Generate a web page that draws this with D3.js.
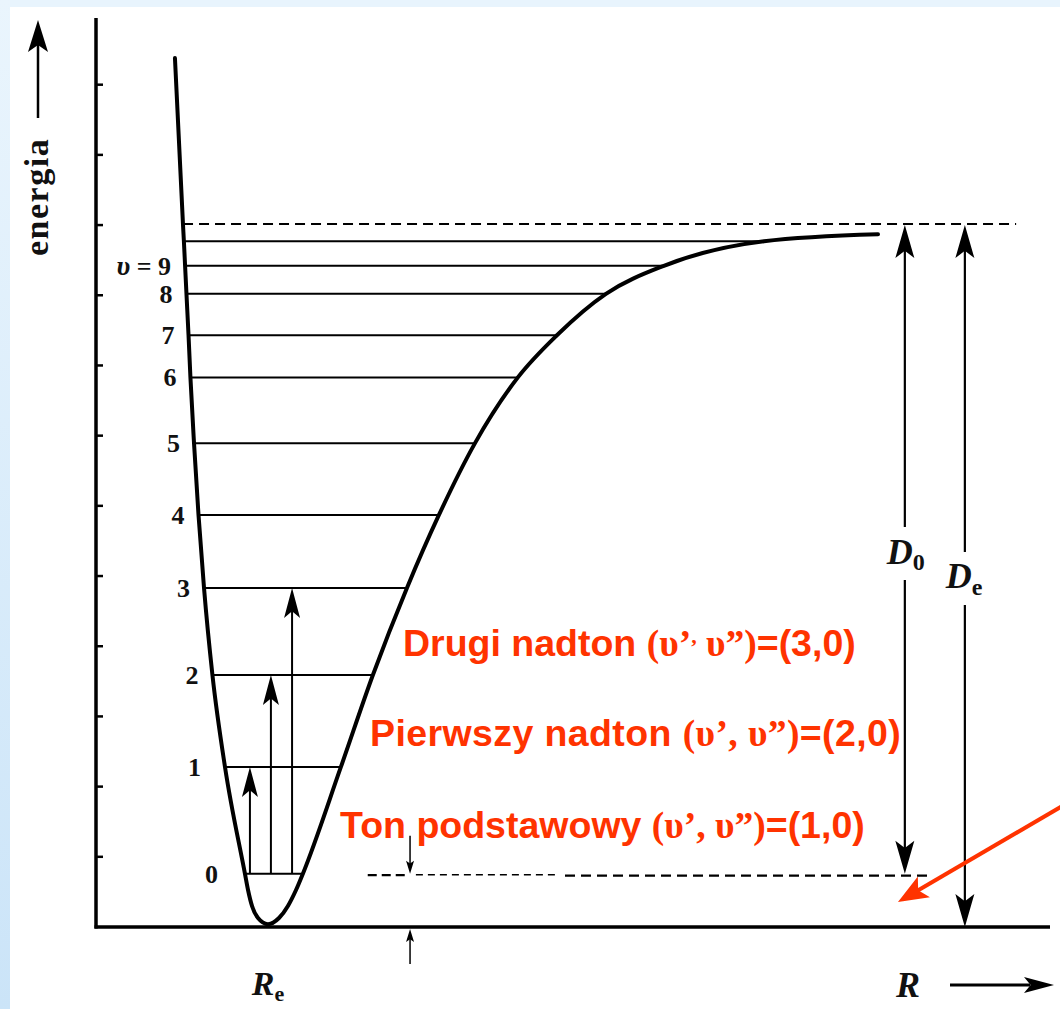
<!DOCTYPE html>
<html>
<head>
<meta charset="utf-8">
<script src="https://cdn.jsdelivr.net/npm/d3@7"></script>
<style>
  html, body { margin: 0; padding: 0; background: #ffffff; }
  svg { display: block; }
</style>
</head>
<body>
<svg id="chart" width="1060" height="1009"></svg>
<script>
// Morse-type potential energy curve of a diatomic molecule with its vibrational levels.
// Energies in units of one axis tick, internuclear distance R in units of R_e.

// Left (repulsive) wall, from the top down to the minimum
const leftWallR = [0.459, 0.506, 0.511, 0.518, 0.526, 0.538, 0.549, 0.570, 0.596, 0.628, 0.677, 0.750, 0.866, 0.884, 0.907, 0.942, 1.000];
const leftWallE = [12.38, 10.00, 9.77, 9.42, 9.02, 8.43, 7.83, 6.89, 5.87, 4.83, 3.59, 2.28, 0.76, 0.527, 0.30, 0.128, 0.04];

// Right (attractive) branch, from the minimum out to dissociation
const rightWallR = [1.000, 1.064, 1.116, 1.163, 1.203, 1.424, 1.610, 1.808, 1.994, 2.203, 2.453, 2.680, 2.965, 3.302, 3.884, 4.547];
const rightWallE = [0.04, 0.128, 0.30, 0.527, 0.76, 2.28, 3.59, 4.83, 5.87, 6.89, 7.83, 8.43, 9.02, 9.42, 9.77, 9.87];

// Vibrational levels v = 0 ... 10
const levelEnergy = [0.76, 2.28, 3.59, 4.83, 5.87, 6.89, 7.83, 8.43, 9.02, 9.42, 9.77];
const levelLabels = ["0", "1", "2", "3", "4", "5", "6", "7", "8", "9", ""];

// Energy axis ticks
const energyTicks = [1, 2, 3, 4, 5, 6, 7, 8, 9, 10, 11, 12];

// Absorption transitions from v'' = 0
const transitionTarget = [1, 2, 3];
const transitionR = [0.895, 1.017, 1.140];

// Band names (fundamental and overtones)
const bandNames = ["Ton podstawowy ", "Pierwszy nadton ", "Drugi nadton "];
const bandValues = ["=(1,0)", "=(2,0)", "=(3,0)"];

// Dissociation energies
const dissociationE = 10;     // D_e measured from the minimum
const zeroPointE = 0.76;      // v = 0, start of D_0
const d0R = 4.703;
const deR = 5.052;

const svg = d3.select("#chart");
const W = 1060, H = 1009;

const x = d3.scaleLinear().domain([0, 5.547]).range([96, 1050]);
const y = d3.scaleLinear().domain([0, 12.95]).range([927, 18]);

const serif = "'Liberation Serif','Times New Roman',serif";
const sans = "'Liberation Sans',Arial,sans-serif";
const red = "#ff3300";

// ---- page frame: pale blue strips along the top and left edge
const defs = svg.append("defs");
const grad = defs.append("linearGradient").attr("id", "edge").attr("x1", 0).attr("y1", 0).attr("x2", 0).attr("y2", 1);
grad.append("stop").attr("offset", 0).attr("stop-color", "#eaf5fd");
grad.append("stop").attr("offset", 1).attr("stop-color", "#cbe4f8");
svg.append("rect").attr("x", 0).attr("y", 0).attr("width", W).attr("height", H).attr("fill", "#ffffff");
svg.append("rect").attr("x", 0).attr("y", 0).attr("width", W).attr("height", 7).attr("fill", "#e8f4fd");
svg.append("rect").attr("x", 0).attr("y", 0).attr("width", 10).attr("height", H).attr("fill", "url(#edge)");

// ---- helper: filled arrow head with its tip at (tx, ty) pointing along angle (radians)
function arrowHead(g, tx, ty, angle, len, wid, color) {
  const c = Math.cos(angle), s = Math.sin(angle);
  const bx = tx - c * len, by = ty - s * len;
  const nx = -s, ny = c;
  const notch = 0.22 * len;
  const pts = [
    [tx, ty],
    [bx + nx * wid / 2, by + ny * wid / 2],
    [tx - c * (len - notch), ty - s * (len - notch)],
    [bx - nx * wid / 2, by - ny * wid / 2]
  ];
  g.append("path").attr("d", "M" + pts.map(p => p.join(",")).join("L") + "Z").attr("fill", color || "#000");
}

// ---- axes
const axes = svg.append("g");
axes.append("line").attr("x1", x(0)).attr("x2", x(0)).attr("y1", y(12.95)).attr("y2", y(0) + 1.5)
  .attr("stroke", "#000").attr("stroke-width", 3.5);
axes.append("line").attr("x1", x(0) - 1.5).attr("x2", x(5.547)).attr("y1", y(0)).attr("y2", y(0))
  .attr("stroke", "#000").attr("stroke-width", 3.5);
axes.selectAll("line.tick").data(energyTicks).join("line").attr("class", "tick")
  .attr("x1", x(0)).attr("x2", x(0) + 7)
  .attr("y1", d => y(d)).attr("y2", d => y(d))
  .attr("stroke", "#000").attr("stroke-width", 2.5);

// ---- interpolation along a branch for a given energy
function branchR(Rs, Es, e) {
  for (let i = 0; i < Es.length - 1; i++) {
    const a = Es[i], b = Es[i + 1];
    if ((e - a) * (e - b) <= 0 && a !== b) {
      return Rs[i] + (Rs[i + 1] - Rs[i]) * (e - a) / (b - a);
    }
  }
  return Rs[Rs.length - 1];
}

// ---- dissociation limit (dashed)
svg.append("line")
  .attr("x1", x(branchR(leftWallR, leftWallE, dissociationE))).attr("x2", x(5.35))
  .attr("y1", y(dissociationE) - 1).attr("y2", y(dissociationE) - 1)
  .attr("stroke", "#000").attr("stroke-width", 2).attr("stroke-dasharray", "10,6");

// ---- vibrational levels
const levels = svg.append("g");
levelEnergy.forEach((e, i) => {
  const xl = x(branchR(leftWallR, leftWallE, e));
  const xr = x(branchR(rightWallR, rightWallE, e));
  levels.append("line").attr("x1", xl).attr("x2", xr).attr("y1", y(e)).attr("y2", y(e))
    .attr("stroke", "#000").attr("stroke-width", 2);
  const lab = levelLabels[i];
  if (lab) {
    const gap = e < 1 ? 27 : (e < 3 ? 24 : 14);
    const t = levels.append("text")
      .attr("x", xl - gap).attr("y", y(e))
      .attr("dy", "0.35em")
      .attr("text-anchor", "end")
      .attr("font-family", serif).attr("font-weight", "bold").attr("font-size", 26)
      .attr("fill", "#111");
    if (i === 9) {
      t.append("tspan").attr("font-style", "italic").attr("font-size", 28).text("υ");
      t.append("tspan").text(" = " + lab);
    } else {
      t.text(lab);
    }
  }
});

// ---- potential curve (R increases monotonically along it)
const curvePts = leftWallR.map((r, i) => [r, leftWallE[i]])
  .concat(rightWallR.slice(1).map((r, i) => [r, rightWallE[i + 1]]));
svg.append("path")
  .datum(curvePts)
  .attr("d", d3.line().x(d => x(d[0])).y(d => y(d[1])).curve(d3.curveMonotoneX))
  .attr("fill", "none").attr("stroke", "#000").attr("stroke-width", 4)
  .attr("stroke-linejoin", "round").attr("stroke-linecap", "round");

// ---- transitions v'' = 0 -> v' = 1, 2, 3
const trans = svg.append("g");
transitionTarget.forEach((v, i) => {
  const xx = x(transitionR[i]);
  const top = y(levelEnergy[v]);
  trans.append("line").attr("x1", xx).attr("x2", xx).attr("y1", y(levelEnergy[0])).attr("y2", top + 18)
    .attr("stroke", "#000").attr("stroke-width", 2);
  arrowHead(trans, xx, top, -Math.PI / 2, 30, 16);
});

// ---- zero-point level extended to the right (dashed)
svg.append("line")
  .attr("x1", x(1.58)).attr("x2", x(1.80)).attr("y1", y(zeroPointE) + 1.5).attr("y2", y(zeroPointE) + 1.5)
  .attr("stroke", "#000").attr("stroke-width", 2.2).attr("stroke-dasharray", "9,5");
svg.append("line")
  .attr("x1", x(1.86)).attr("x2", x(2.686)).attr("y1", y(zeroPointE) + 1).attr("y2", y(zeroPointE) + 1)
  .attr("stroke", "#000").attr("stroke-width", 1.5).attr("stroke-dasharray", "7,5");
svg.append("line")
  .attr("x1", x(2.727)).attr("x2", x(4.86)).attr("y1", y(zeroPointE) + 2).attr("y2", y(zeroPointE) + 2)
  .attr("stroke", "#000").attr("stroke-width", 2.4).attr("stroke-dasharray", "10,6");

// ---- small markers of the zero-point energy
const zp = svg.append("g");
const zpx = x(1.826);
zp.append("line").attr("x1", zpx).attr("x2", zpx).attr("y1", y(zeroPointE) - 38).attr("y2", y(zeroPointE) - 6)
  .attr("stroke", "#000").attr("stroke-width", 1.5);
arrowHead(zp, zpx, y(zeroPointE), Math.PI / 2, 13, 8);
zp.append("line").attr("x1", zpx).attr("x2", zpx).attr("y1", y(0) + 37).attr("y2", y(0) + 8)
  .attr("stroke", "#000").attr("stroke-width", 1.5);
arrowHead(zp, zpx, y(0) + 2, -Math.PI / 2, 13, 8);

// ---- D0 and De double arrows with their labels
function doubleArrow(r, eTop, eBot, gapTop, gapBot) {
  const g = svg.append("g");
  const xx = x(r);
  g.append("line").attr("x1", xx).attr("x2", xx).attr("y1", y(eTop) + 20).attr("y2", gapTop)
    .attr("stroke", "#000").attr("stroke-width", 2.2);
  g.append("line").attr("x1", xx).attr("x2", xx).attr("y1", gapBot).attr("y2", y(eBot) - 20)
    .attr("stroke", "#000").attr("stroke-width", 2.2);
  arrowHead(g, xx, y(eTop), -Math.PI / 2, 33, 19);
  arrowHead(g, xx, y(eBot), Math.PI / 2, 33, 19);
  return g;
}
const gD0 = doubleArrow(d0R, dissociationE, zeroPointE, 527, 580);
gD0.append("text").attr("x", x(d0R) - 18).attr("y", 564)
  .attr("font-family", serif).attr("font-style", "italic").attr("font-weight", "bold").attr("font-size", 36)
  .attr("fill", "#111")
  .call(t => { t.append("tspan").text("D"); t.append("tspan").attr("font-size", 24).attr("font-style", "normal").attr("dy", 6).text("0"); });
const gDe = doubleArrow(deR, dissociationE, 0, 552, 605);
gDe.append("text").attr("x", x(deR) - 19).attr("y", 588)
  .attr("font-family", serif).attr("font-style", "italic").attr("font-weight", "bold").attr("font-size", 36)
  .attr("fill", "#111")
  .call(t => { t.append("tspan").text("D"); t.append("tspan").attr("font-size", 24).attr("font-style", "normal").attr("dy", 7).text("e"); });

// ---- band annotations
const ann = svg.append("g").attr("fill", red).attr("font-size", 37.5);
const annX = [1.419, 1.593, 1.785];
const annE = [1.27, 2.58, 3.86];
const annSpacing = [0, 0.4, 0];
[0, 1, 2].forEach(i => {
  const t = ann.append("text").attr("x", x(annX[i])).attr("y", y(annE[i])).attr("letter-spacing", annSpacing[i]);
  t.append("tspan").attr("font-family", sans).attr("font-weight", "bold").text(bandNames[i]);
  if (i === 2) {
    t.append("tspan").attr("font-family", serif).attr("font-weight", "bold").text("(υ’");
    t.append("tspan").attr("font-family", serif).attr("font-weight", "bold").attr("dy", -13).attr("font-size", 22).text(",");
    t.append("tspan").attr("font-family", serif).attr("font-weight", "bold").attr("dy", 13).text(" υ”)");
  } else {
    t.append("tspan").attr("font-family", serif).attr("font-weight", "bold").text("(υ’, υ”)");
  }
  t.append("tspan").attr("font-family", sans).attr("font-weight", "bold").text(bandValues[i]);
});

// ---- red pointer towards the zero-point gap
const ptr = svg.append("g");
const p0 = [x(5.616), y(1.72)], p1 = [x(4.663), y(0.356)];
const ang = Math.atan2(p1[1] - p0[1], p1[0] - p0[0]);
ptr.append("line").attr("x1", p0[0]).attr("y1", p0[1])
  .attr("x2", p1[0] - Math.cos(ang) * 22).attr("y2", p1[1] - Math.sin(ang) * 22)
  .attr("stroke", red).attr("stroke-width", 4);
arrowHead(ptr, p1[0], p1[1], ang, 30, 24, red);

// ---- axis titles
const lab = svg.append("g").attr("fill", "#111");
lab.append("text").attr("transform", "translate(48,256) rotate(-90)")
  .attr("font-family", serif).attr("font-weight", "bold").attr("font-size", 34).attr("letter-spacing", 1.5)
  .text("energia");
lab.append("line").attr("x1", 38).attr("x2", 38).attr("y1", 118).attr("y2", 45)
  .attr("stroke", "#000").attr("stroke-width", 2.5);
arrowHead(lab, 38, 20, -Math.PI / 2, 32, 20);

lab.append("text").attr("x", x(1.0)).attr("y", 995).attr("text-anchor", "middle")
  .attr("font-family", serif).attr("font-style", "italic").attr("font-weight", "bold").attr("font-size", 34)
  .call(t => { t.append("tspan").text("R"); t.append("tspan").attr("font-size", 22).attr("font-style", "normal").attr("dy", 6).text("e"); });

lab.append("text").attr("x", 908).attr("y", 997).attr("text-anchor", "middle")
  .attr("font-family", serif).attr("font-style", "italic").attr("font-weight", "bold").attr("font-size", 36)
  .text("R");
lab.append("line").attr("x1", 950).attr("x2", 1030).attr("y1", 985).attr("y2", 985)
  .attr("stroke", "#000").attr("stroke-width", 3);
arrowHead(lab, 1054, 985, 0, 30, 16);
</script>
</body>
</html>
